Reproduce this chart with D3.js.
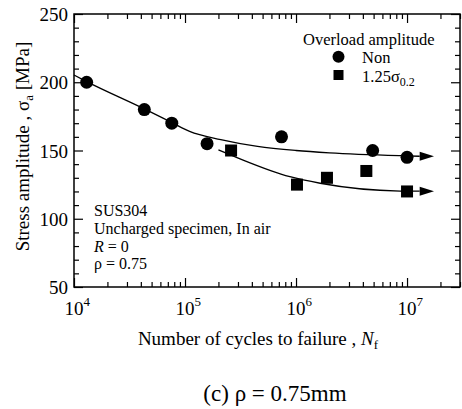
<!DOCTYPE html>
<html lang="en">
<head>
<meta charset="UTF-8">
<script src="https://cdn.jsdelivr.net/npm/d3@7"></script>
<title>S-N curve</title>
<style>
	body { margin: 0; background: #fff; }
	svg text { font-family: "Liberation Serif", "Times New Roman", serif; }
	.tick line { stroke: #000; stroke-width: 1.2; }
</style>
</head>
<body>
<svg id="chart" width="462" height="409"></svg>
<script>
// test data
const nonN = [1.3e4, 4.3e4, 7.6e4, 1.58e5, 7.4e5, 4.9e6, 1e7];
const nonS = [200, 180, 170, 155, 160, 150, 145];
const olN = [2.6e5, 1.02e6, 1.9e6, 4.3e6, 1e7];
const olS = [150, 125, 130, 135, 120];
// fitted curves
const nonFitN = [1e4, 1.3e4, 4.3e4, 7.6e4, 1.1e5, 2.1e5, 4.5e5, 1e6, 2e6, 8.7e6, 1.3e7];
const nonFitS = [205.3, 200.5, 180.5, 170.5, 164, 158, 153, 150, 148.3, 146.2, 145.8];
const olFitN = [2.0e5, 2.9e5, 8.8e5, 1.65e6, 8.7e6, 1.3e7];
const olFitS = [150.4, 145, 130.8, 126, 120.3, 120.2];
const arrowTipN = 1.75e7;
// axes
const xDecades = [1e4, 1e5, 1e6, 1e7];
const xLabelExp = ['4', '5', '6', '7'];
const yMajor = [50, 100, 150, 200, 250];

const width = 462, height = 409;
const margin = { top: 14, right: 2, bottom: 122, left: 74 };
const x0 = margin.left, x1 = width - margin.right;
const y0 = height - margin.bottom, y1 = margin.top;
const serif = '"Liberation Serif", "Times New Roman", serif';

const svg = d3.select('#chart');

const x = d3.scaleLog().domain([1e4, 3e7]).range([x0, x1]);
const y = d3.scaleLinear().domain([50, 250]).range([y0, y1]);

const xMinor = x.ticks().filter(v => !xDecades.includes(v));
const yMinor = d3.range(50, 251, 10).filter(v => !yMajor.includes(v));

//ticks, all pointing inwards
function ticks(axisFn, scale, vals, size, tr) {
	svg.append('g')
		.attr('transform', tr)
		.call(axisFn(scale).tickValues(vals).tickSize(-size).tickFormat(''))
		.call(g => g.select('.domain').remove());
}
ticks(d3.axisBottom, x, xDecades, 9, `translate(0,${y0})`);
ticks(d3.axisBottom, x, xMinor, 5, `translate(0,${y0})`);
ticks(d3.axisTop, x, xDecades, 9, `translate(0,${y1})`);
ticks(d3.axisTop, x, xMinor, 5, `translate(0,${y1})`);
ticks(d3.axisLeft, y, yMajor, 9, `translate(${x0},0)`);
ticks(d3.axisLeft, y, yMinor, 5, `translate(${x0},0)`);
ticks(d3.axisRight, y, yMajor, 9, `translate(${x1},0)`);
ticks(d3.axisRight, y, yMinor, 5, `translate(${x1},0)`);

svg.append('rect')
	.attr('x', x0).attr('y', y1)
	.attr('width', x1 - x0).attr('height', y0 - y1)
	.attr('fill', 'none').attr('stroke', '#000').attr('stroke-width', 1.5);

// tick labels
svg.selectAll('.ylab').data(yMajor).enter().append('text')
	.attr('x', x0 - 6).attr('y', d => y(d) + 7)
	.attr('text-anchor', 'end').attr('font-size', 19).attr('font-family', serif)
	.text(d => d);

const xl = svg.selectAll('.xlab').data(xDecades).enter().append('text')
	.attr('x', d => x(d) - 9.5).attr('y', y0 + 28)
	.attr('font-size', 19).attr('font-family', serif);
xl.append('tspan').text('10');
xl.append('tspan').attr('font-size', 13).attr('dy', -9).text((d, i) => xLabelExp[i]);

// axis titles
const yt = svg.append('text')
	.attr('transform', `translate(29,${(y0 + y1) / 2 - 4}) rotate(-90)`)
	.attr('text-anchor', 'middle').attr('font-size', 19).attr('font-family', serif);
yt.append('tspan').text('Stress amplitude , σ');
yt.append('tspan').attr('font-size', 13).attr('dy', 4).text('a');
yt.append('tspan').attr('dy', -4).text(' [MPa]');

const xt = svg.append('text')
	.attr('x', 258).attr('y', y0 + 58)
	.attr('text-anchor', 'middle').attr('font-size', 19).attr('font-family', serif);
xt.append('tspan').text('Number of cycles to failure , ');
xt.append('tspan').attr('font-style', 'italic').text('N');
xt.append('tspan').attr('font-size', 13).attr('dy', 4).text('f');

svg.append('text')
	.attr('x', 275).attr('y', 401)
	.attr('text-anchor', 'middle').attr('font-size', 23).attr('font-family', serif)
	.text('(c) ρ = 0.75mm');

// fitted lines with arrows for run-outs
const line = d3.line().x(d => x(d[0])).y(d => y(d[1])).curve(d3.curveMonotoneX);
[[nonFitN, nonFitS], [olFitN, olFitS]].forEach(([ns, ss]) => {
	const pts = ns.map((n, i) => [n, ss[i]]);
	svg.append('path').datum(pts)
		.attr('d', line)
		.attr('fill', 'none').attr('stroke', '#000').attr('stroke-width', 1.3);
	const last = pts[pts.length - 1];
	const bx = x(last[0]), by = y(last[1]), tx = x(arrowTipN);
	svg.append('path')
		.attr('d', `M${bx},${by - 4.5}L${tx},${by}L${bx},${by + 4.5}Z`)
		.attr('fill', '#000');
});

// markers
svg.selectAll('.dot').data(nonN).enter().append('circle')
	.attr('cx', d => x(d)).attr('cy', (d, i) => y(nonS[i]))
	.attr('r', 6.5).attr('fill', '#000');
svg.selectAll('.sq').data(olN).enter().append('rect')
	.attr('x', d => x(d) - 6).attr('y', (d, i) => y(olS[i]) - 6)
	.attr('width', 12).attr('height', 12).attr('fill', '#000');

// legend
const leg = svg.append('text').attr('font-size', 16.5).attr('font-family', serif);
leg.append('tspan').attr('x', 303).attr('y', 44.5).text('Overload amplitude');
leg.append('tspan').attr('x', 362).attr('y', 63).text('Non');
leg.append('tspan').attr('x', 362).attr('y', 81.5).text('1.25σ');
leg.append('tspan').attr('font-size', 12).attr('dy', 4).text('0.2');
svg.append('circle').attr('cx', 338.5).attr('cy', 56.7).attr('r', 6).attr('fill', '#000');
svg.append('rect').attr('x', 333.5).attr('y', 70).attr('width', 10).attr('height', 10).attr('fill', '#000');

// annotation (line gap kept just above the font height)
const notes = [['SUS304'], ['Uncharged specimen, In air'], ['R', ' = 0'], ['ρ = 0.75']];
const note = svg.append('text').attr('font-size', 16).attr('font-family', serif);
notes.forEach((parts, i) => {
	const t = note.append('tspan').attr('x', 94).attr('y', 216 + i * 17.8);
	if (parts.length === 2) {
		t.attr('font-style', 'italic').text(parts[0]);
		note.append('tspan').text(parts[1]);
	} else {
		t.text(parts[0]);
	}
});
</script>
</body>
</html>
